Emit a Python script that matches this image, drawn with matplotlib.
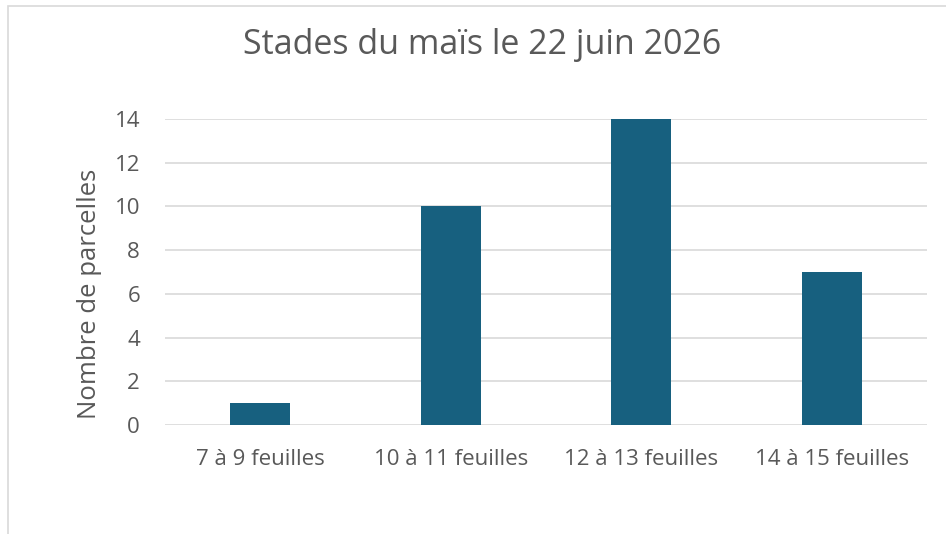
import matplotlib
matplotlib.use("Agg")
import matplotlib.pyplot as plt
from matplotlib.patches import Rectangle

categories = ["7 à 9 feuilles", "10 à 11 feuilles", "12 à 13 feuilles", "14 à 15 feuilles"]
values = [1, 10, 14, 7]
yticks = [0, 2, 4, 6, 8, 10, 12, 14]
title = "Stades du maïs le 22 juin 2026"
ylabel = "Nombre de parcelles"

plt.rcParams['font.family'] = ['Open Sans', 'DejaVu Sans']
W, H = 946, 534
fig = plt.figure(figsize=(W/100, H/100), dpi=100)
fig.patch.set_facecolor('white')

# outer frame (left and top edges visible)
fig.add_artist(Rectangle((8/W, -0.1), 1.2, (H-6)/H + 0.1, transform=fig.transFigure,
                         fill=False, edgecolor='#d9d9d9', linewidth=1.2))

x0, x1 = 165, 927
y0, y1 = 425, 119
ax = fig.add_axes([x0/W, (H-y0)/H, (x1-x0)/W, (y0-y1)/H])
xs = range(len(categories))
ax.bar(xs, values, width=0.315, color='#17607F', zorder=3)
ax.set_xlim(-0.5, len(categories)-0.5)
ax.set_ylim(0, 14)
ax.set_yticks(yticks)
ax.set_xticks(list(xs))
ax.set_xticklabels(categories)
ax.grid(axis='y', color='#d9d9d9', linewidth=1.2, zorder=0)
for s in ax.spines.values():
    s.set_visible(False)
ax.tick_params(axis='both', length=0, labelsize=16, colors='#595959')
ax.tick_params(axis='x', pad=17)
ax.tick_params(axis='y', pad=18)
fig.text(90/W, 1-294/H, ylabel, rotation=90, ha='center', va='center', fontsize=18.5, color='#595959')
fig.text(482/W, 1-45/H, title, ha='center', va='center', fontsize=24.5, color='#595959')

fig.savefig("out.png", dpi=100, facecolor='white')
